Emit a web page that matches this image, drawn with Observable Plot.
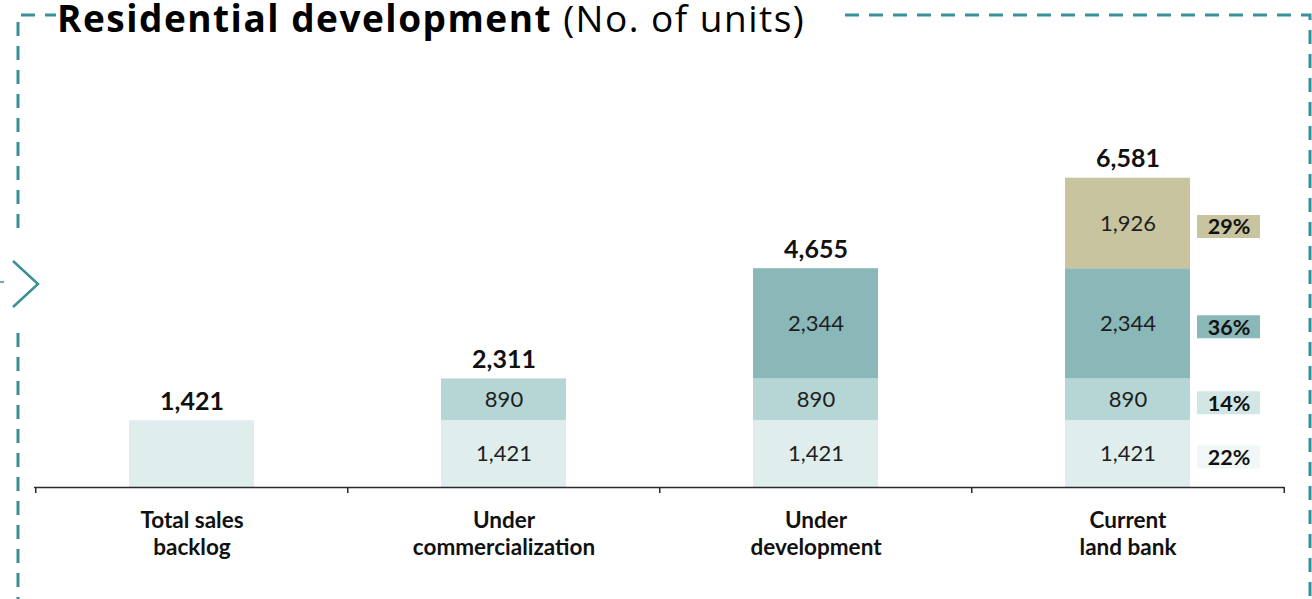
<!DOCTYPE html>
<html>
<head>
<meta charset="utf-8">
<script src="https://cdn.jsdelivr.net/npm/d3@7"></script>
<script src="https://cdn.jsdelivr.net/npm/@observablehq/plot@0.6"></script>
<style>
  html, body { margin: 0; padding: 0; background: #ffffff; }
  #wrap { position: relative; width: 1312px; height: 599px; overflow: hidden; font-family: Lato, "Open Sans", sans-serif; }
  #chart, #decor { position: absolute; left: 0; top: 0; }
  #decor { pointer-events: none; }
</style>
</head>
<body>
<div id="wrap">
  <div id="chart"></div>
  <svg id="decor" width="1312" height="599" xmlns="http://www.w3.org/2000/svg">
    <g fill="none" stroke="#3b8f96" stroke-width="3" stroke-dasharray="14 10">
      <path d="M18,228 V15 H56"/>
      <path d="M18,333 V599"/>
      <path d="M845,15 H1310 V599"/>
    </g>
    <path d="M0,282 H4" stroke="#3b8f96" stroke-width="1.5"/>
    <path d="M13,261 L38,284 L13,307" fill="none" stroke="#3b8f96" stroke-width="2.5"/>
    <text x="57" y="32" font-family="'Open Sans', Lato, sans-serif" font-size="37" letter-spacing="1.5" fill="#000"><tspan font-weight="bold">Residential development</tspan><tspan font-weight="normal"> (No. of units)</tspan></text>
  </svg>
</div>
<script>
// ---- Data ----
const categories = ["Total sales backlog", "Under commercialization", "Under development", "Current land bank"];
const categoryLabels = ["Total sales\nbacklog", "Under\ncommercialization", "Under\ndevelopment", "Current\nland bank"];
const seriesNames = ["Sales backlog", "Commercialization", "Development", "Land bank"];
const salesBacklog = [1421, 1421, 1421, 1421];
const commercialization = [0, 890, 890, 890];
const development = [0, 0, 2344, 2344];
const landBank = [0, 0, 0, 1926];
const totals = [1421, 2311, 4655, 6581];
const shareLabels = ["22%", "14%", "36%", "29%"]; // shares of current land bank, bottom to top
const seriesColors = ["#e0eded", "#b6d5d5", "#8ab7b7", "#c9c4a0"];
const shareColors = ["#f1f7f7", "#d2e6e6", "#8ab7b7", "#c9c4a0"];

// ---- Build tables ----
const seriesValues = [salesBacklog, commercialization, development, landBank];
const rows = [];
categories.forEach((cat, i) => {
  let base = 0;
  const nSeg = seriesValues.filter(vals => vals[i] > 0).length;
  seriesValues.forEach((vals, s) => {
    const v = vals[i];
    if (v > 0) {
      rows.push({cat, series: seriesNames[s], value: v, y1: base, y2: base + v, mid: base + v / 2, idx: s, stacked: nSeg > 1});
      base += v;
    }
  });
});
const totalRows = categories.map((cat, i) => ({cat, total: totals[i], label: categoryLabels[i]}));
const lastCat = categories[categories.length - 1];
const shareRows = rows.filter(d => d.cat === lastCat).map(d => ({...d, share: shareLabels[d.idx], color: shareColors[d.idx]}));

const W = 1312, H = 599;
const mL = 34, mR = 28, mT = 158, mB = 112;
const step = (W - mL - mR) / categories.length;
const fmt = d3.format(",");
const font = "Lato, 'Open Sans', sans-serif";

const chart = Plot.plot({
  width: W,
  height: H,
  marginLeft: mL,
  marginRight: mR,
  marginTop: mT,
  marginBottom: mB,
  style: {fontFamily: font, background: "transparent", overflow: "visible"},
  x: {domain: categories, paddingInner: 0.6, paddingOuter: 0.3, axis: null},
  y: {domain: [0, 7000], axis: null},
  color: {domain: seriesNames, range: seriesColors},
  marks: [
    Plot.barY(rows, {x: "cat", y1: "y1", y2: "y2", fill: "series"}),
    Plot.text(rows.filter(d => d.stacked), {x: "cat", y: "mid", text: d => fmt(d.value), fontSize: 22, fill: "#1e1e1e"}),
    Plot.text(totalRows, {x: "cat", y: "total", text: d => fmt(d.total), dy: -19, fontSize: 25, fontWeight: "bold", fill: "#111"}),
    Plot.tickY(shareRows, {x: "cat", y: "mid", stroke: "color", strokeWidth: 23, insetLeft: 31, insetRight: 31, dx: 101, dy: 3}),
    Plot.text(shareRows, {x: "cat", y: "mid", text: "share", dx: 101, dy: 4, fontSize: 21.5, fontWeight: "bold", fill: "#111"}),
    Plot.ruleY([0], {stroke: "#2a2a2a", strokeWidth: 1.5}),
    Plot.ruleX(categories, {x: d => d, y1: 0, y2: 0, insetBottom: -6, dx: -step / 2, stroke: "#2a2a2a", strokeWidth: 1.5}),
    Plot.ruleX([lastCat], {x: d => d, y1: 0, y2: 0, insetBottom: -6, dx: step / 2, stroke: "#2a2a2a", strokeWidth: 1.5}),
    Plot.text(totalRows, {x: "cat", y: 0, text: "label", dy: 45, lineAnchor: "middle", lineHeight: 1.2, fontSize: 22.5, fontWeight: "bold", fill: "#111"})
  ]
});
document.getElementById("chart").appendChild(chart);
</script>
</body>
</html>
